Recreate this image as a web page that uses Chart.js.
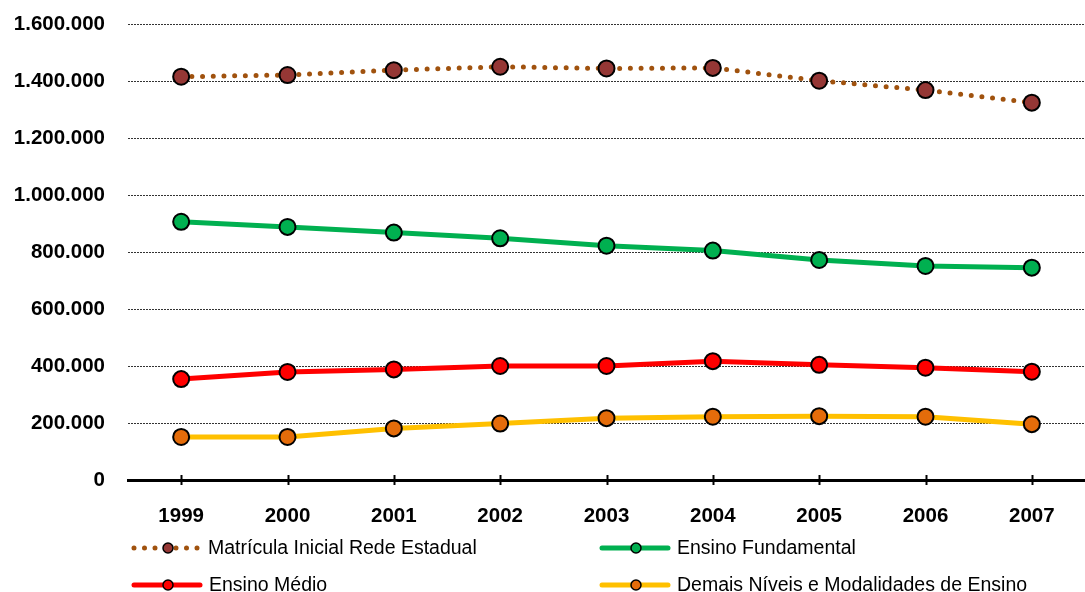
<!DOCTYPE html>
<html lang="pt-BR">
<head>
<meta charset="utf-8">
<title>Matrícula Inicial Rede Estadual 1999-2007</title>
<script src="https://cdn.jsdelivr.net/npm/chart.js@4/dist/chart.umd.min.js"></script>
<style>
  html, body { margin: 0; padding: 0; background: #fff; overflow: hidden; }
  canvas { display: block; }
</style>
</head>
<body>
<canvas id="grafico" width="1095" height="592"></canvas>
<script>
// Anos do período
const anos = ['1999', '2000', '2001', '2002', '2003', '2004', '2005', '2006', '2007'];

// Matrículas por ano
const matriculaInicial = [1415000, 1421000, 1438000, 1450000, 1444000, 1446000, 1401000, 1368000, 1324000];
const ensinoFundamental = [906000, 888000, 868000, 848000, 822000, 805000, 772000, 751000, 745000];
const ensinoMedio = [354000, 379000, 388000, 400000, 400000, 417000, 404000, 394000, 380000];
const demaisNiveis = [151000, 151000, 181000, 198000, 217000, 222000, 224000, 222000, 196000];

// Eixo vertical
const eixoMin = 0;
const eixoMax = 1600000;
const eixoPasso = 200000;

const FONTE = '"Liberation Sans", Arial, sans-serif';

function formatarMilhar(v) {
  return String(Math.round(v)).replace(/\B(?=(\d{3})+(?!\d))/g, '.');
}

// Marcas do eixo X cruzando a linha do eixo
const marcasEixoX = {
  id: 'marcasEixoX',
  afterDatasetsDraw(chart) {
    const { ctx, scales } = chart;
    const x = scales.x;
    const y0 = scales.y.getPixelForValue(0);
    ctx.save();
    ctx.strokeStyle = '#000';
    ctx.lineWidth = 2;
    x.ticks.forEach((t, i) => {
      const px = Math.round(x.getPixelForTick(i)) + 0.5;
      ctx.beginPath();
      ctx.moveTo(px, y0 - 5);
      ctx.lineTo(px, y0 + 5);
      ctx.stroke();
    });
    ctx.restore();
  }
};

// Legenda em duas colunas abaixo do gráfico
const legendaInferior = {
  id: 'legendaInferior',
  afterDraw(chart) {
    const { ctx } = chart;
    const itens = [
      { ds: 0, x: 132, y: 548, fim: 201 },
      { ds: 1, x: 600, y: 548, fim: 670 },
      { ds: 2, x: 132, y: 585, fim: 202 },
      { ds: 3, x: 600, y: 585, fim: 670 }
    ];
    ctx.save();
    itens.forEach(it => {
      const d = chart.data.datasets[it.ds];
      const cx = it.x + 36;
      ctx.beginPath();
      ctx.strokeStyle = d.borderColor;
      ctx.lineWidth = 5;
      ctx.lineCap = 'round';
      ctx.setLineDash(d.borderDash ? [0, 10.5] : []);
      ctx.moveTo(it.x + 2, it.y);
      ctx.lineTo(it.fim - 2, it.y);
      ctx.stroke();
      ctx.setLineDash([]);
      ctx.beginPath();
      ctx.arc(cx, it.y, 5, 0, Math.PI * 2);
      ctx.fillStyle = d.pointBackgroundColor;
      ctx.fill();
      ctx.lineWidth = 1.5;
      ctx.strokeStyle = '#000';
      ctx.stroke();
      ctx.fillStyle = '#000';
      ctx.font = '19.5px ' + FONTE;
      ctx.textBaseline = 'middle';
      ctx.textAlign = 'left';
      ctx.fillText(d.label, it.fim + 7, it.y + 1);
    });
    ctx.restore();
  }
};

function serie(label, dados, linha, ponto, pontilhada) {
  return {
    label,
    data: dados,
    borderColor: linha,
    borderWidth: 5,
    borderDash: pontilhada ? [0, 10.7] : undefined,
    borderCapStyle: 'round',
    pointRadius: 8,
    pointHoverRadius: 8,
    pointBackgroundColor: ponto,
    pointBorderColor: '#000',
    pointBorderWidth: 2,
    tension: 0,
    fill: false
  };
}

new Chart(document.getElementById('grafico'), {
  type: 'line',
  data: {
    labels: anos,
    datasets: [
      serie('Matrícula Inicial Rede Estadual', matriculaInicial, '#A0520E', '#953735', true),
      serie('Ensino Fundamental', ensinoFundamental, '#00B050', '#00B050', false),
      serie('Ensino Médio', ensinoMedio, '#FF0000', '#FF0000', false),
      serie('Demais Níveis e Modalidades de Ensino', demaisNiveis, '#FFC000', '#E46C0A', false)
    ]
  },
  options: {
    responsive: false,
    animation: false,
    layout: { padding: { top: 24, right: 0, bottom: 62, left: 0 } },
    plugins: {
      legend: { display: false },
      tooltip: { enabled: false }
    },
    scales: {
      x: {
        offset: true,
        grid: { display: false, drawTicks: false },
        border: { display: true, color: '#000', width: 3 },
        ticks: {
          color: '#000',
          padding: 24,
          font: { family: FONTE, size: 20.5, weight: 'bold' },
          maxRotation: 0
        },
        afterFit(scale) { scale.height = 50; }
      },
      y: {
        min: eixoMin,
        max: eixoMax,
        grid: {
          color: '#333',
          lineWidth: 1,
          drawTicks: true,
          tickLength: 14,
          tickColor: 'rgba(0,0,0,0)'
        },
        border: { display: false, dash: [2, 1] },
        ticks: {
          stepSize: eixoPasso,
          color: '#000',
          padding: 9,
          font: { family: FONTE, size: 20.5, weight: 'bold' },
          callback: v => formatarMilhar(v)
        },
        afterFit(scale) { scale.width = 128; }
      }
    }
  },
  plugins: [marcasEixoX, legendaInferior]
});
</script>
</body>
</html>
